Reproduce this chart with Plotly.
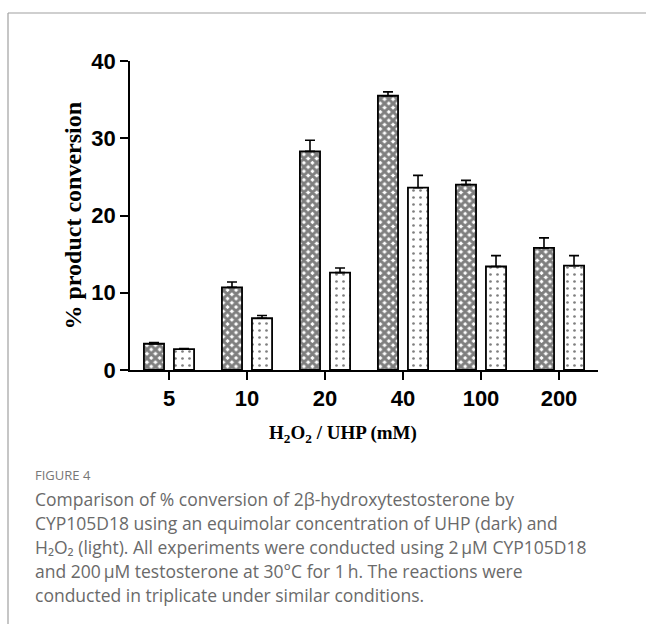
import plotly.graph_objects as go

categories = ["5", "10", "20", "40", "100", "200"]
uhp_values = [3.4, 10.7, 28.3, 35.5, 24.0, 15.8]
uhp_errors = [0.15, 0.7, 1.45, 0.5, 0.55, 1.3]
h2o2_values = [2.7, 6.7, 12.6, 23.6, 13.4, 13.5]
h2o2_errors = [0.08, 0.35, 0.6, 1.6, 1.4, 1.3]
y_ticks = [0, 10, 20, 30, 40]

caption_title = "FIGURE 4"
caption_lines = [
    "Comparison of % conversion of 2β-hydroxytestosterone by",
    "CYP105D18 using an equimolar concentration of UHP (dark) and",
    "H₂O₂ (light). All experiments were conducted using 2\u2009μM CYP105D18",
    "and 200\u2009μM testosterone at 30°C for 1\u2009h. The reactions were",
    "conducted in triplicate under similar conditions.",
]

W, H = 646, 624
L, R, T, B = 130, 48, 61, 254
pw, ph = W - L - R, H - T - B

def px(x):
    return (x - L) / pw

def py(y):
    return (H - B - y) / ph

fig = go.Figure()
fig.add_trace(go.Bar(
    x=categories, y=uhp_values, name="UHP",
    marker=dict(color="white", line=dict(color="black", width=1.8),
                pattern=dict(shape="x", fgcolor="black", bgcolor="white", size=6, solidity=0.75)),
    error_y=dict(type="data", symmetric=False, array=uhp_errors, arrayminus=[0] * len(uhp_errors),
                 color="black", thickness=1.6, width=5),
))
fig.add_trace(go.Bar(
    x=categories, y=h2o2_values, name="H2O2",
    marker=dict(color="white", line=dict(color="black", width=1.8),
                pattern=dict(shape=".", fgcolor="black", bgcolor="white", size=7, solidity=0.12)),
    error_y=dict(type="data", symmetric=False, array=h2o2_errors, arrayminus=[0] * len(h2o2_errors),
                 color="black", thickness=1.6, width=5),
))

fig.update_layout(
    width=W, height=H,
    margin=dict(l=L, r=R, t=T, b=B),
    paper_bgcolor="white", plot_bgcolor="white",
    barmode="group", bargap=0.23, bargroupgap=0.33,
    showlegend=False,
    xaxis=dict(
        type="category", range=[-0.5, 5.5],
        showline=True, linecolor="black", linewidth=1.8,
        ticks="outside", ticklen=8, tickwidth=1.8, tickcolor="black",
        tickfont=dict(family="Liberation Sans", size=22, color="black", weight="bold"),
        showgrid=False, zeroline=False,
    ),
    yaxis=dict(
        range=[0, 40], tickvals=y_ticks,
        showline=True, linecolor="black", linewidth=1.8,
        ticks="outside", ticklen=8, tickwidth=1.8, tickcolor="black",
        tickfont=dict(family="Liberation Sans", size=22, color="black", weight="bold"),
        showgrid=False, zeroline=False,
    ),
)

annotations = [
    dict(text="% product conversion", x=px(72), y=0.5, xref="paper", yref="paper",
         textangle=-90, showarrow=False, xanchor="center", yanchor="middle",
         font=dict(family="Liberation Serif", size=24, color="black", weight="bold")),
    dict(text="H<sub>2</sub>O<sub>2</sub> / UHP (mM)", x=px(343), y=py(434), xref="paper", yref="paper",
         showarrow=False, xanchor="center", yanchor="middle",
         font=dict(family="Liberation Serif", size=19, color="black", weight="bold")),
    dict(text=caption_title, x=px(33), y=py(475), xref="paper", yref="paper",
         showarrow=False, xanchor="left", yanchor="middle",
         font=dict(family="Open Sans", size=13, color="#777777")),
]
for i, line in enumerate(caption_lines):
    annotations.append(dict(text=line, x=px(33), y=py(499 + 24 * i), xref="paper", yref="paper",
                            showarrow=False, xanchor="left", yanchor="middle",
                            font=dict(family="Open Sans", size=17.5, color="#6a6a6a")))
fig.update_layout(annotations=annotations)

fig.add_shape(type="line", xref="paper", yref="paper", x0=px(8), x1=px(646), y0=py(13), y1=py(13),
              line=dict(color="#a0a0a0", width=1.2))
fig.add_shape(type="line", xref="paper", yref="paper", x0=px(8), x1=px(8), y0=py(13), y1=py(624),
              line=dict(color="#a0a0a0", width=1.2))

fig.write_html("out.html", config={"displayModeBar": False},
               post_script="document.body.style.margin='0';document.body.style.padding='0';")
